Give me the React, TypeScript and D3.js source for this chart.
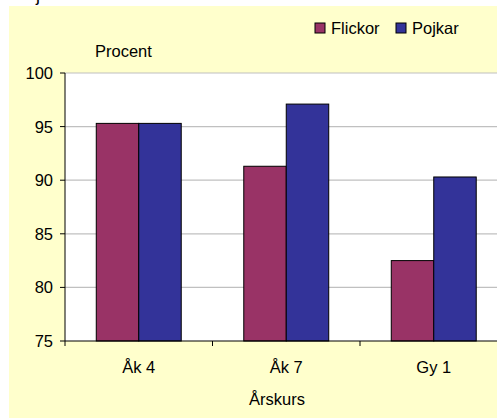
import React from "react";
import * as d3 from "d3";

const categories = ["Åk 4", "Åk 7", "Gy 1"];
const seriesNames = ["Flickor", "Pojkar"];
const flickor = [95.3, 91.3, 82.5];
const pojkar = [95.3, 97.1, 90.3];
const yTicks = [75, 80, 85, 90, 95, 100];
const colors = ["#993366", "#333399"];

export default function App() {
  const W = 497, H = 418;
  const left = 65, right = 507.5, top = 73, bottom = 341;
  const font = "'Liberation Sans', Arial, sans-serif";
  const fs = 16.5;
  const x0 = d3.scaleBand().domain(categories).range([left, right]).paddingInner(0).paddingOuter(0);
  const inner = x0.bandwidth() * 0.576;
  const x1 = d3.scaleBand().domain(seriesNames).range([0, inner]);
  const y = d3.scaleLinear().domain([75, 100]).range([bottom, top]);
  const series = [flickor, pojkar];
  return (
    <svg width={W} height={H} style={{ position: "absolute", left: 0, top: 0 }} fontFamily={font}>
      <rect x={9} y={6} width={W - 9} height={H - 6} fill="#FFFFCC" />
      <text x={36} y={1} fontSize={18} fill="#000">j</text>
      <rect x={left} y={top} width={right - left} height={bottom - top} fill="#fff" />
      {yTicks.map((t) => (
        <g key={t}>
          {t !== 75 && <line x1={left} x2={right} y1={y(t)} y2={y(t)} stroke="#c0c0c0" strokeWidth={1.2} />}
          <line x1={left - 5} x2={left} y1={y(t)} y2={y(t)} stroke="#000" />
          <text x={53} y={y(t) + 6} textAnchor="end" fontSize={fs} fill="#000">{t}</text>
        </g>
      ))}
      {categories.map((c, i) => {
        const gx = (x0(c) as number) + (x0.bandwidth() - inner) / 2;
        return (
          <g key={c}>
            {series.map((s, j) => (
              <rect key={j} x={gx + (x1(seriesNames[j]) as number)} y={y(s[i])} width={x1.bandwidth()} height={bottom - y(s[i])}
                fill={colors[j]} stroke="#000" strokeWidth={1} />
            ))}
            <text x={(x0(c) as number) + x0.bandwidth() / 2} y={373} textAnchor="middle" fontSize={fs} fill="#000">{c}</text>
          </g>
        );
      })}
      <line x1={left} x2={left} y1={top} y2={bottom} stroke="#000" />
      <line x1={left} x2={right} y1={bottom} y2={bottom} stroke="#000" />
      {categories.map((c) => (
        <line key={c} x1={x0(c) as number} x2={x0(c) as number} y1={bottom} y2={bottom + 5} stroke="#000" />
      ))}
      <text x={95} y={56.5} fontSize={fs} fill="#000">Procent</text>
      <text x={277} y={404.5} textAnchor="middle" fontSize={fs} fill="#000">Årskurs</text>
      {seriesNames.map((n, j) => {
        const lx = [315, 396][j];
        return (
          <g key={n}>
            <rect x={lx} y={23} width={10} height={10} fill={colors[j]} stroke="#000" strokeWidth={1} />
            <text x={lx + 16} y={34} fontSize={fs} fill="#000">{n}</text>
          </g>
        );
      })}
    </svg>
  );
}
